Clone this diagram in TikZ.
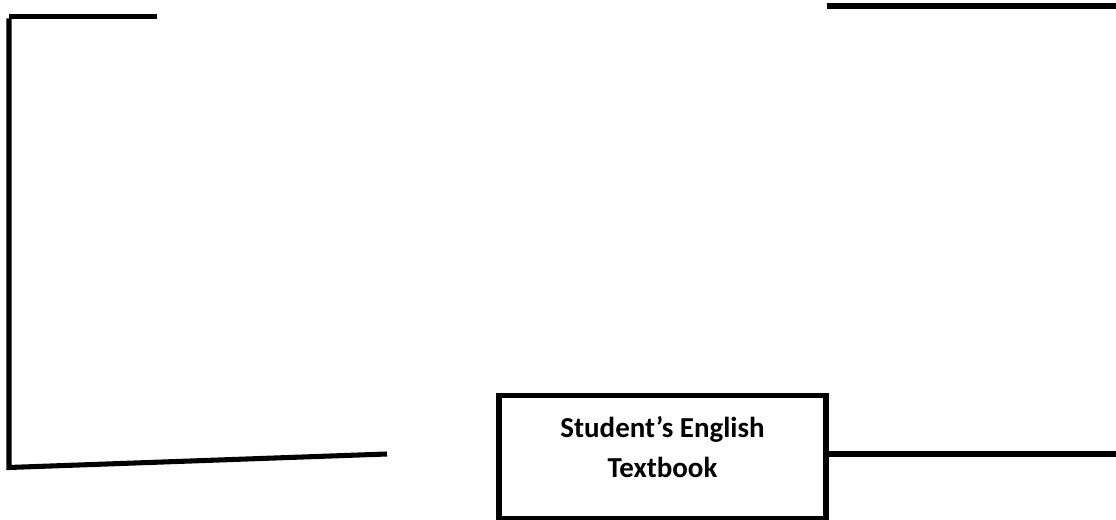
\documentclass[tikz,border=0pt]{standalone}
\usepackage{fontspec}
\setmainfont{Carlito}
\usepackage{tikz}
\usetikzlibrary{positioning}

\tikzset{
  line/.style={line width=3.6pt},
  bookbox/.style={draw,line width=3.6pt,minimum width=8.175cm,minimum height=3.075cm,inner sep=0pt},
  booktext/.style={font=\fontsize{20.6}{28.5}\selectfont\bfseries,align=center,inner sep=0pt}
}

\begin{document}
\begin{tikzpicture}
\useasboundingbox (0,0) rectangle (27.9,13);
% free ends of the lines
\coordinate (topA) at (0.225,12.5875);
\coordinate (topB) at (3.925,12.5875);
\coordinate (sideA) at (0.225,12.5375);
\coordinate (sideB) at (0.225,1.3125);
\coordinate (baseB) at (9.675,1.65);
\coordinate (rtopA) at (20.675,12.85);
\coordinate (rtopB) at (27.9,12.85);
\coordinate (rightB) at (27.9,1.65);

\node[bookbox] (book) at (16.5625,1.575) {};
\node[booktext] (booklabel) at ([yshift=0.25cm]book.center) {Student’s English\\Textbook};

\draw[line] (topA) -- (topB);
\draw[line] (sideA) -- (sideB) -- (baseB);
\draw[line] (rtopA) -- (rtopB);
\draw[line] (book.east |- rightB) -- (rightB);

\end{tikzpicture}
\end{document}
